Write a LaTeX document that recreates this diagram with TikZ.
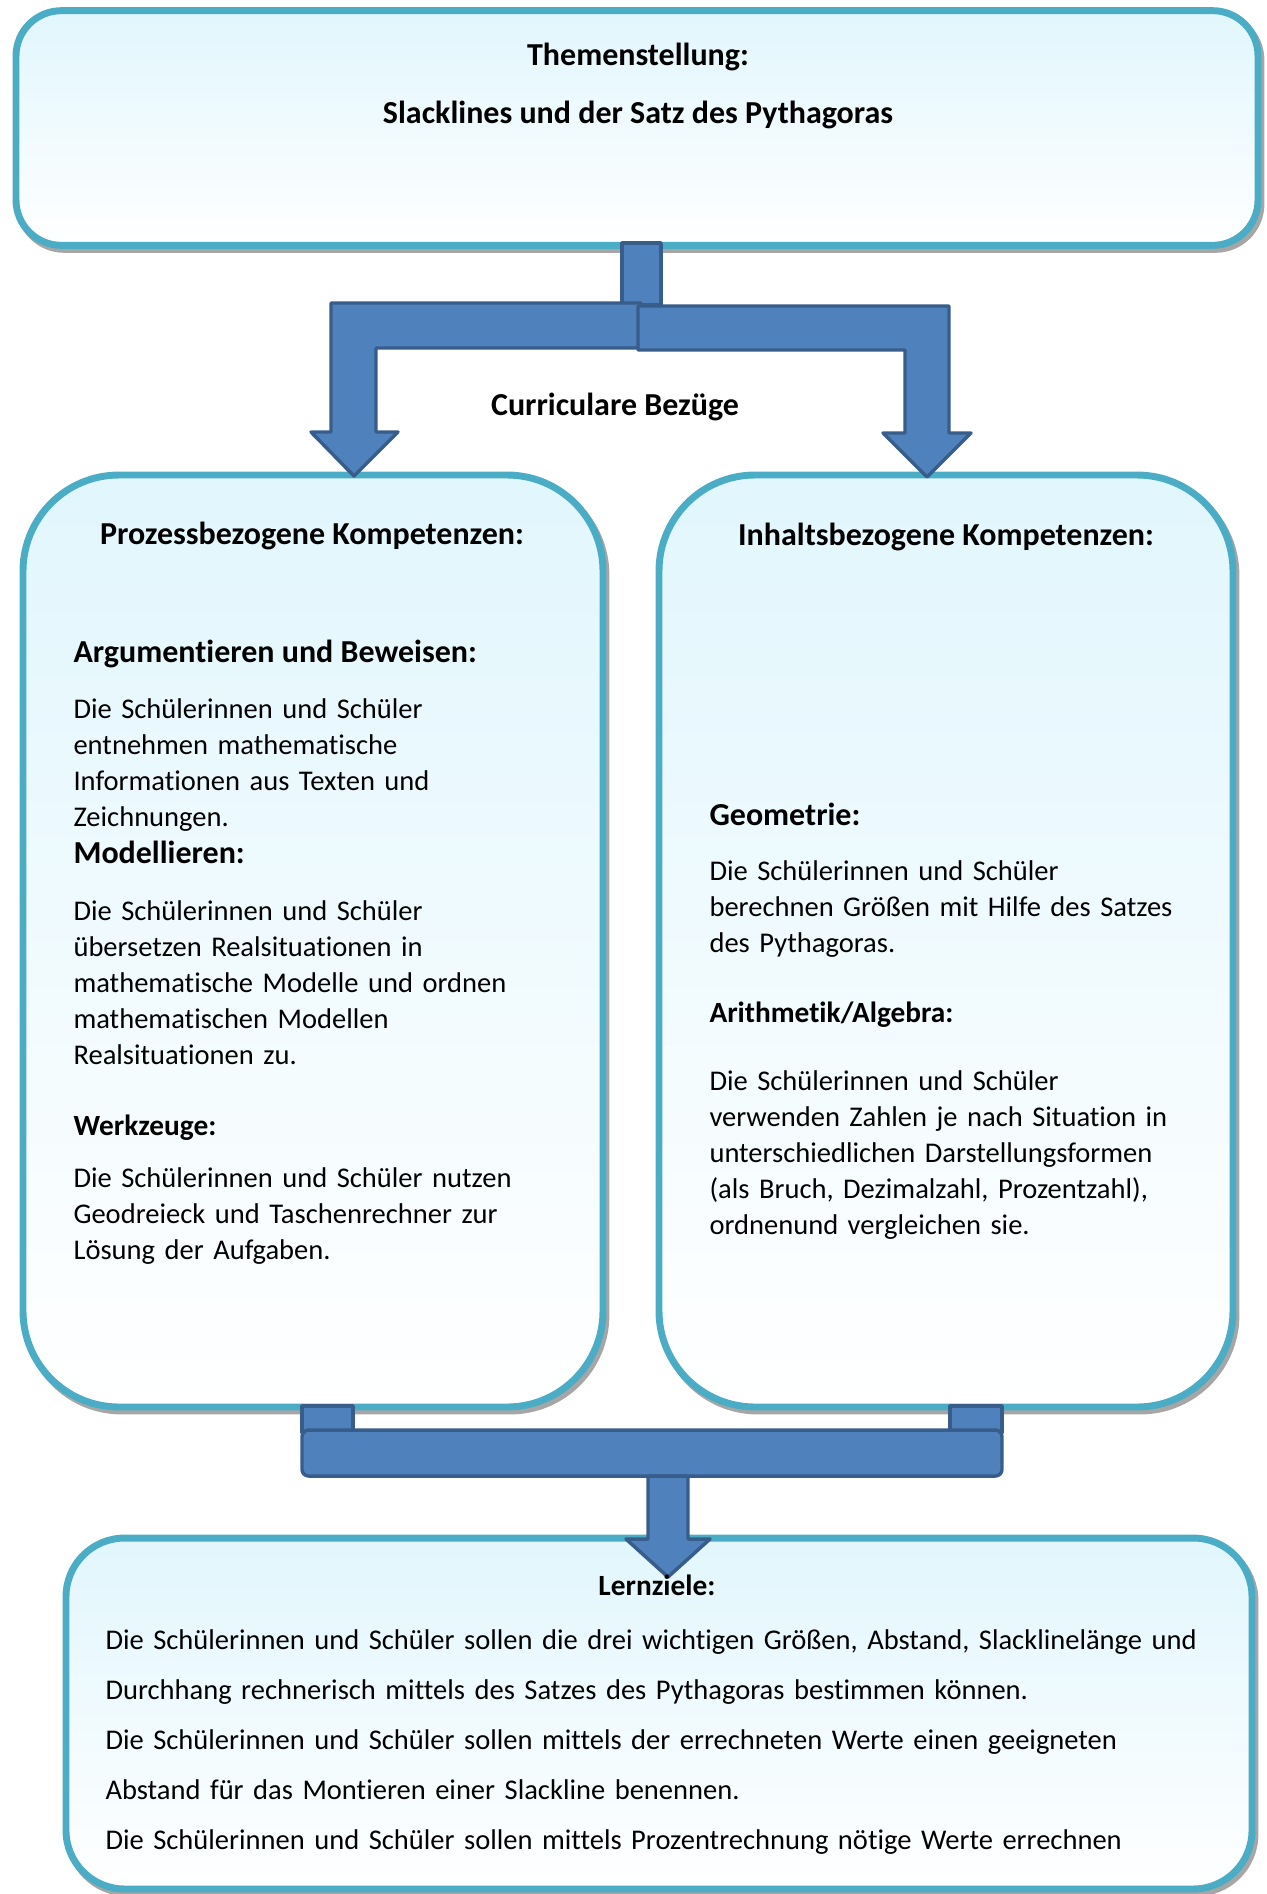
\documentclass[tikz,border=0pt]{standalone}
\usepackage{fontspec}
\setmainfont{Carlito}[Ligatures={TeX,CommonOff}]
\usetikzlibrary{shadows}
\definecolor{boxline}{HTML}{4BACC6}
\definecolor{boxcyan}{HTML}{E1F6FD}
\definecolor{shadowgray}{HTML}{A6A6A6}
\definecolor{arrowblue}{HTML}{4F81BD}
\definecolor{arrowline}{HTML}{385D8A}
\tikzset{
  cbox/.style={draw=boxline, line width=2.6pt, rounded corners=#1,
    top color=boxcyan, bottom color=white, inner sep=0pt,
    general shadow={draw=shadowgray, line width=2.6pt,
      shadow xshift=1.1pt, shadow yshift=-1.5pt}},
  barrow/.style={fill=arrowblue, draw=arrowline, line width=1.3pt, line join=round},
  hdbig/.style={font=\fontsize{12}{14.4}\selectfont\bfseries, inner sep=0pt, anchor=base},
  hdsmall/.style={font=\fontsize{11}{13.5}\selectfont\bfseries, inner sep=0pt, anchor=base},
  bodytext/.style={font=\fontsize{10.7}{13.5}\selectfont, inner sep=0pt,
    anchor=base west, align=left},
  goaltext/.style={font=\fontsize{10.7}{18.75}\selectfont, inner sep=0pt,
    anchor=base west, align=left, text width=425pt},
}
\begin{document}
\begin{tikzpicture}[x=0.375pt, y=-0.375pt]
\useasboundingbox (0,0) rectangle (1267,1894);

% boxes
\node[cbox=17pt, minimum width=465.75pt, minimum height=88pt] (topbox) at (637,128) {};
\node[cbox=36pt, minimum width=217.5pt, minimum height=349.5pt] (leftbox) at (313,941) {};
\node[cbox=36pt, minimum width=215.25pt, minimum height=349.5pt] (rightbox) at (946,941) {};
\node[cbox=22pt, minimum width=444.75pt, minimum height=131.6pt] (goalbox) at (659,1713.5) {};

% top connector arrows
\draw[barrow] (622,243) rectangle (661,305);
\draw[barrow] (641,303) -- (331,303) -- (331,432) -- (311,432) -- (354,476)
  -- (398,432) -- (376,432) -- (376,348) -- (641,348) -- cycle;
\draw[barrow] (638,306) -- (949,306) -- (949,433) -- (971,433) -- (927,477)
  -- (883,433) -- (905,433) -- (905,350) -- (638,350) -- cycle;

% bottom connector
\draw[barrow] (302,1406) rectangle (353,1433);
\draw[barrow] (950,1406) rectangle (1002,1433);
\draw[barrow, rounded corners=2.5pt] (302,1430) rectangle (1002,1476);
\draw[barrow] (648,1476) -- (648,1539) -- (626,1539) -- (668,1577)
  -- (710,1539) -- (688,1539) -- (688,1476) -- cycle;

% top texts
\node[hdbig] (themen) at (638,65) {Themenstellung:};
\node[hdbig] (slack) at (638,123) {Slacklines und der Satz des Pythagoras};
\node[hdbig] (curr) at (615,415) {Curriculare Bezüge};

% left box
\node[hdbig] (prozhead) at (312,544) {Prozessbezogene Kompetenzen:};
\node[hdbig, anchor=base west] (arghead) at (73,662) {Argumentieren und Beweisen:};
\node[bodytext, text width=200pt] (argtext) at (73,718) {Die Schülerinnen und Schüler\\
entnehmen mathematische\\
Informationen aus Texten und\\
Zeichnungen.};
\node[hdbig, anchor=base west] (modhead) at (73,863) {Modellieren:};
\node[bodytext, text width=200pt] (modtext) at (73,920) {Die Schülerinnen und Schüler\\
übersetzen Realsituationen in\\
mathematische Modelle und ordnen\\
mathematischen Modellen\\
Realsituationen zu.};
\node[hdsmall, anchor=base west] (werkhead) at (73,1135) {Werkzeuge:};
\node[bodytext, text width=200pt] (werktext) at (73,1187) {Die Schülerinnen und Schüler nutzen\\
Geodreieck und Taschenrechner zur\\
Lösung der Aufgaben.};

% right box
\node[hdbig] (inhhead) at (946,545) {Inhaltsbezogene Kompetenzen:};
\node[hdbig, anchor=base west] (geohead) at (709,825) {Geometrie:};
\node[bodytext, text width=200pt] (geotext) at (709,880) {Die Schülerinnen und Schüler\\
berechnen Größen mit Hilfe des Satzes\\
des Pythagoras.};
\node[hdsmall, anchor=base west] (arithhead) at (709,1022) {Arithmetik/Algebra:};
\node[bodytext, text width=200pt] (arithtext) at (709,1090) {Die Schülerinnen und Schüler\\
verwenden Zahlen je nach Situation in\\
unterschiedlichen Darstellungsformen\\
(als Bruch, Dezimalzahl, Prozentzahl),\\
ordnenund vergleichen sie.};

% bottom box
\node[hdsmall] (lernhead) at (657,1595) {Lernziele:};
\node[goaltext] (lerntext) at (105,1649) {Die Schülerinnen und Schüler sollen die drei wichtigen Größen, Abstand, Slacklinelänge und\\
Durchhang rechnerisch mittels des Satzes des Pythagoras bestimmen können.\\
Die Schülerinnen und Schüler sollen mittels der errechneten Werte einen geeigneten\\
Abstand für das Montieren einer Slackline benennen.\\
Die Schülerinnen und Schüler sollen mittels Prozentrechnung nötige Werte errechnen};
\end{tikzpicture}
\end{document}
